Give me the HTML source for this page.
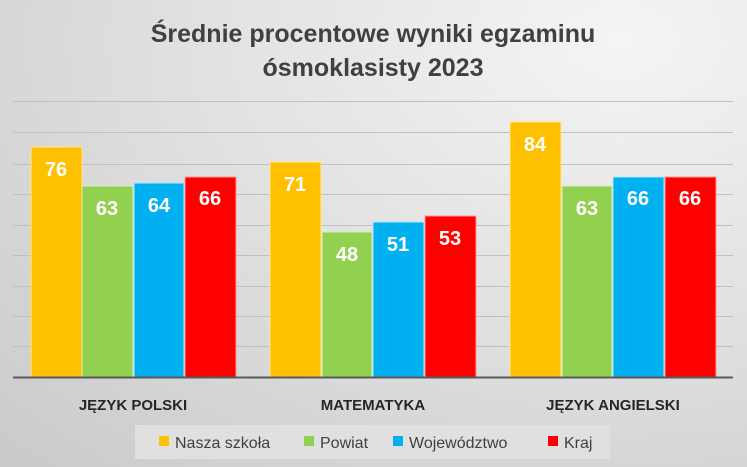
<!DOCTYPE html>
<html><head><meta charset="utf-8"><style>
body{margin:0;}
#c{width:747px;height:467px;position:relative;overflow:hidden;font-family:"Liberation Sans","DejaVu Sans",sans-serif;
background:radial-gradient(ellipse 900px 600px at 620px 40px,#f4f4f4 0%,#e2e2e2 45%,#c9c9c9 100%);}
</style></head><body><div id="c">
<svg width="747" height="467" xmlns="http://www.w3.org/2000/svg" style="position:absolute;left:0;top:0">
<g font-family="Liberation Sans, DejaVu Sans, sans-serif">
<text x="373" y="42" text-anchor="middle" font-size="25" font-weight="bold" fill="#404040">Średnie procentowe wyniki egzaminu</text>
<text x="373" y="76" text-anchor="middle" font-size="25" font-weight="bold" fill="#404040">ósmoklasisty 2023</text>
<g stroke="#c0c0c0" stroke-width="1">
<line x1="13" x2="733" y1="101.5" y2="101.5"/><line x1="13" x2="733" y1="132.5" y2="132.5"/>
<line x1="13" x2="733" y1="164.5" y2="164.5"/><line x1="13" x2="733" y1="194.5" y2="194.5"/>
<line x1="13" x2="733" y1="225.5" y2="225.5"/><line x1="13" x2="733" y1="255.5" y2="255.5"/>
<line x1="13" x2="733" y1="286.5" y2="286.5"/><line x1="13" x2="733" y1="316.5" y2="316.5"/>
<line x1="13" x2="733" y1="346.5" y2="346.5"/>
</g>
<g stroke-width="1" font-size="20" font-weight="bold" fill="#fff" text-anchor="middle">
<rect x="31" y="147" width="51" height="230" fill="#ffc000" stroke="#ffe699"/>
<rect x="82" y="186" width="51" height="191" fill="#92d050" stroke="#d6efc4"/>
<rect x="134" y="183" width="50" height="194" fill="#00b0f0" stroke="#b3e7fa"/>
<rect x="185" y="177" width="51" height="200" fill="#ff0000" stroke="#ff9999"/>
<rect x="270" y="162" width="51" height="215" fill="#ffc000" stroke="#ffe699"/>
<rect x="322" y="232" width="50" height="145" fill="#92d050" stroke="#d6efc4"/>
<rect x="373" y="222" width="51" height="155" fill="#00b0f0" stroke="#b3e7fa"/>
<rect x="425" y="216" width="51" height="161" fill="#ff0000" stroke="#ff9999"/>
<rect x="510" y="122" width="51" height="255" fill="#ffc000" stroke="#ffe699"/>
<rect x="562" y="186" width="50" height="191" fill="#92d050" stroke="#d6efc4"/>
<rect x="613" y="177" width="51" height="200" fill="#00b0f0" stroke="#b3e7fa"/>
<rect x="665" y="177" width="51" height="200" fill="#ff0000" stroke="#ff9999"/>
<g stroke="none">
<text x="56" y="176">76</text><text x="107" y="215">63</text><text x="159" y="212">64</text><text x="210" y="205">66</text>
<text x="295" y="191">71</text><text x="347" y="261">48</text><text x="398" y="251">51</text><text x="450" y="245">53</text>
<text x="535" y="151">84</text><text x="587" y="215">63</text><text x="638" y="205">66</text><text x="690" y="205">66</text>
</g>
</g>
<line x1="13" x2="733" y1="377.5" y2="377.5" stroke="#595959" stroke-width="2"/>
<g font-size="15" font-weight="bold" fill="#262626" text-anchor="middle">
<text x="133" y="410">JĘZYK POLSKI</text><text x="373" y="410">MATEMATYKA</text><text x="613" y="410">JĘZYK ANGIELSKI</text>
</g>
<rect x="135" y="425" width="475" height="34" fill="#e0e0e0"/>
<g font-size="16" fill="#404040">
<rect x="159" y="436" width="10" height="10" fill="#ffc000"/><text x="175" y="448">Nasza szkoła</text>
<rect x="304" y="436" width="10" height="10" fill="#92d050"/><text x="320" y="448">Powiat</text>
<rect x="393" y="436" width="10" height="10" fill="#00b0f0"/><text x="409" y="448">Województwo</text>
<rect x="548" y="436" width="10" height="10" fill="#ff0000"/><text x="564" y="448">Kraj</text>
</g>
</g></svg>
</div></body></html>
